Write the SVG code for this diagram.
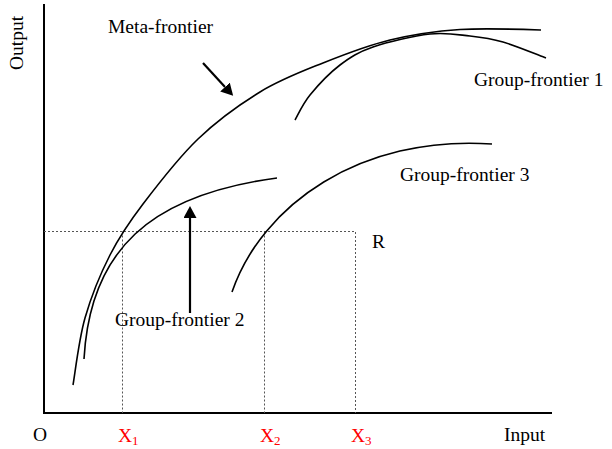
<svg xmlns="http://www.w3.org/2000/svg" width="612" height="449" viewBox="0 0 612 449">
<style>
text { font-family: "Liberation Serif", "Times New Roman", serif; font-size: 19.5px; fill: #000; }
.red { fill: #ff0000; }
.sub { font-size: 13px; }
.axis { stroke: #000; stroke-width: 2; fill: none; }
.curve { stroke: #000; stroke-width: 1.6; fill: none; stroke-linecap: butt; }
.dot { stroke: #555; stroke-width: 1; stroke-dasharray: 2 2; fill: none; }
.arrow { stroke: #000; stroke-width: 2.2; fill: none; }
</style>
<defs>
<marker id="head" markerUnits="userSpaceOnUse" markerWidth="13" markerHeight="13" refX="0" refY="6.5" orient="auto">
<path d="M0,0 L12,6.5 L0,13 z" fill="#000"/>
</marker>
</defs>
<rect width="612" height="449" fill="#fff"/>

<g id="axes">
<path class="axis" d="M44,4 V414"/>
<path class="axis" d="M43,413 H552"/>
</g>

<g id="guides">
<path class="dot" d="M44,231.5 H355.5 V413"/>
<path class="dot" d="M122.5,231.5 V413"/>
<path class="dot" d="M264.5,231.5 V413"/>
</g>

<g id="meta-frontier">
<path class="curve" d="M73,385 C75,373.8 78.8,339.7 85,318 C91.2,296.3 100.3,274 110,255 C119.7,236 128.3,223.3 143,204 C157.7,184.7 178.5,157.7 198,139 C217.5,120.3 239.2,104.7 260,92 C280.8,79.3 301.3,71.7 323,63 C344.7,54.3 367.2,45.5 390,40 C412.8,34.5 435,31.2 460,29.5 C485,28 526.7,29.5 541,30"/>
<text x="108" y="33">Meta-frontier</text>
</g>

<g id="group-frontier-1">
<path class="curve" d="M295,120 C297.5,115.8 302.5,104.2 310,95 C317.5,85.8 329.5,73 340,65 C350.5,57 358,52.2 373,47 C388,41.8 413.8,35.8 430,34 C446.2,32.2 457.8,34.7 470,36 C482.2,37.3 490.3,38.3 503,42 C515.7,45.7 538.8,55.3 546,58"/>
<text x="474" y="86">Group-frontier 1</text>
</g>

<g id="group-frontier-2">
<path class="curve" d="M84,359 C90,250 150,195 277,178"/>
<text x="115" y="326">Group-frontier 2</text>
</g>

<g id="group-frontier-3">
<path class="curve" d="M232,292 C262,205 360,135 492,144"/>
<text x="400" y="181">Group-frontier 3</text>
</g>

<g id="connectors">
<path class="arrow" d="M203,63 L225,87" marker-end="url(#head)"/>
<path class="arrow" d="M190,313 L190,218" marker-end="url(#head)"/>
</g>

<g id="labels">
<text transform="translate(23,70) rotate(-90)">Output</text>
<text x="33" y="441">O</text>
<text x="504" y="441">Input</text>
<text x="372" y="248">R</text>
<text class="red" x="118" y="442">X<tspan class="sub" dy="3">1</tspan></text>
<text class="red" x="260" y="442">X<tspan class="sub" dy="3">2</tspan></text>
<text class="red" x="351" y="442">X<tspan class="sub" dy="3">3</tspan></text>
</g>
</svg>
